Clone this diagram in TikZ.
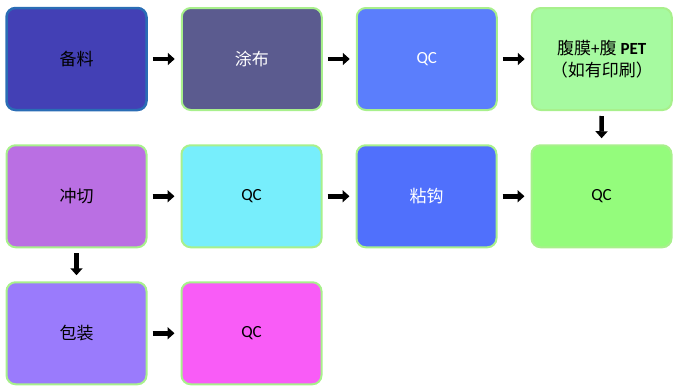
\documentclass[tikz,border=0pt]{standalone}
\usepackage{fontspec}
\setmainfont{Carlito}
\newfontfamily\cjk{Noto Sans CJK SC}
\usepackage{xcolor}
\usetikzlibrary{arrows.meta}
\usetikzlibrary{positioning}

\definecolor{rimgreen}{HTML}{A8F08C}
\definecolor{rimblue}{HTML}{2A6DB5}
\definecolor{cBeiliao}{HTML}{4340B5}
\definecolor{cTubu}{HTML}{5B5B8F}
\definecolor{cQCa}{HTML}{5B7EFC}
\definecolor{cFumo}{HTML}{A6FAA0}
\definecolor{cChongqie}{HTML}{BA6FE3}
\definecolor{cQCb}{HTML}{77EEFC}
\definecolor{cZhangou}{HTML}{5070FC}
\definecolor{cQCc}{HTML}{94FC7C}
\definecolor{cBaozhuang}{HTML}{9A7BFC}
\definecolor{cQCd}{HTML}{F95CF7}

\begin{document}
\begin{tikzpicture}[x=1pt,y=-1pt,
  node distance=33pt and 33pt,
  box/.style={rectangle,rounded corners=9pt,minimum width=140pt,minimum height=102pt,
    draw=rimgreen,line width=2pt,font=\fontsize{17}{22}\selectfont,align=center},
  flow/.style={line width=4.5pt,-{Triangle[length=7pt,width=12pt]},
    shorten <=5pt,shorten >=6pt}]
\useasboundingbox (0,0) rectangle (680,388);

% row 1
\node[box,fill=cBeiliao,draw=rimblue,line width=2.5pt] (beiliao) at (76.5,59) {\cjk 备料};
\node[box,fill=cTubu,text=white,right=of beiliao] (tubu) {\cjk 涂布};
\node[box,fill=cQCa,text=white,right=of tubu] (qc1) {QC};
\node[box,fill=cFumo,right=of qc1] (fumo) {{\cjk 腹膜}+{\cjk 腹} \textbf{PET}\\{\cjk （如有印刷）}};

% row 2
\node[box,fill=cChongqie,below=of beiliao] (chongqie) {\cjk 冲切};
\node[box,fill=cQCb,right=of chongqie] (qc2) {QC};
\node[box,fill=cZhangou,text=white,right=of qc2] (zhangou) {\cjk 粘钩};
\node[box,fill=cQCc,right=of zhangou] (qc3) {QC};

% row 3
\node[box,fill=cBaozhuang,below=of chongqie] (baozhuang) {\cjk 包装};
\node[box,fill=cQCd,right=of baozhuang] (qc4) {QC};

\draw[flow] (beiliao) -- (tubu);
\draw[flow] (tubu) -- (qc1);
\draw[flow] (qc1) -- (fumo);
\draw[flow] (fumo) -- (qc3);
\draw[flow] (chongqie) -- (qc2);
\draw[flow] (qc2) -- (zhangou);
\draw[flow] (zhangou) -- (qc3);
\draw[flow] (chongqie) -- (baozhuang);
\draw[flow] (baozhuang) -- (qc4);
\end{tikzpicture}
\end{document}
